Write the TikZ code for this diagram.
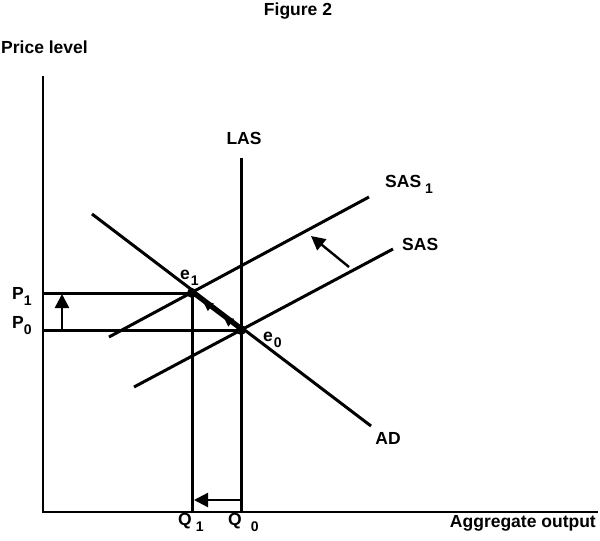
\documentclass[tikz,border=0pt]{standalone}
\usepackage{fontspec}
\setmainfont{Liberation Sans}
\usetikzlibrary{arrows.meta,decorations.markings}
\newcommand\sbs[1]{\raisebox{-6pt}{\fontsize{14}{14}\selectfont\bfseries #1}}
\begin{document}
\begin{tikzpicture}[x=1pt,y=-1pt,
  curve/.style={line width=3pt},
  axis/.style={line width=2.6pt},
  lbl/.style={font=\fontsize{17.5}{20}\selectfont\bfseries, inner sep=0pt},
  bigarrow/.style={line width=2.4pt,-{Triangle[length=14pt,width=14pt]}},
  dot/.style={circle,fill,inner sep=0pt,minimum size=10pt},
  smallarr/.style={decoration={markings,
      mark=at position 0.36 with {\arrow{Triangle[length=10pt,width=9pt]}},
      mark=at position 0.78 with {\arrow{Triangle[length=10pt,width=9pt]}}},
      postaction={decorate}}]
\useasboundingbox (0,0) rectangle (600,541);
% coordinates
\coordinate (O) at (43,512);
\coordinate (ytop) at (43,76);
\coordinate (xend) at (598,512);
\coordinate (lastop) at (241,158);
\coordinate (q0) at (241,512);
\coordinate (q1) at (192,512);
\coordinate (e1) at (192,293);
\coordinate (e0) at (241,330);
\coordinate (p1) at (43,293);
\coordinate (p0) at (43,330);
\coordinate (ad1) at (92,214);
\coordinate (ad2) at (371,426);
\coordinate (sas1a) at (109,337);
\coordinate (sas1b) at (369,197);
\coordinate (sasa) at (134,387);
\coordinate (sasb) at (393,249);
\coordinate (shA) at (349,267);
\coordinate (shB) at (311,236);
\coordinate (paA) at (62,330);
\coordinate (paB) at (62,294);
\coordinate (qaA) at (241,500);
\coordinate (qaB) at (194,500);
% axes
\draw[axis] (ytop) -- (O) -- (xend);
% guide lines
\draw[curve] (lastop) -- (q0);
\draw[curve] (e1) -- (q1);
\draw[curve] (p1) -- (e1);
\draw[curve] (p0) -- (e0);
% curves
\draw[curve] (ad1) -- (ad2);
\draw[curve] (sas1a) -- (sas1b);
\draw[curve] (sasa) -- (sasb);
\draw[curve,smallarr] (e0) -- (e1);
% dots
\node[dot] (d1) at (e1) {};
\node[dot] (d0) at (e0) {};
% arrows
\draw[bigarrow] (shA) -- (shB);
\draw[bigarrow] (paA) -- (paB);
\draw[bigarrow] (qaA) -- (qaB);
% labels
\node[lbl] (title) at (298,11) {Figure 2};
\node[lbl,anchor=west] (ylab) at (1,47) {Price level};
\node[lbl,anchor=east] (xlab) at (596,523) {Aggregate output};
\node[lbl] (laslab) at (244,138) {LAS};
\node[lbl,anchor=west] (sas1lab) at (385,184) {SAS\hspace{4pt}\sbs{1}};
\node[lbl,anchor=west] (saslab) at (402,244) {SAS};
\node[lbl] (adlab) at (388,438) {AD};
\node[lbl,anchor=west] (e1lab) at (180,278) {e\hspace{1pt}\sbs{1}};
\node[lbl,anchor=west] (e0lab) at (263,340) {e\hspace{1pt}\sbs{0}};
\node[lbl,anchor=west] (p1lab) at (12,296) {P\sbs{1}};
\node[lbl,anchor=west] (p0lab) at (12,326) {P\sbs{0}};
\node[lbl,anchor=west] (q1lab) at (178,522) {Q\hspace{4pt}\sbs{1}};
\node[lbl,anchor=west] (q0lab) at (228,522) {Q\hspace{9pt}\sbs{0}};
\end{tikzpicture}
\end{document}
